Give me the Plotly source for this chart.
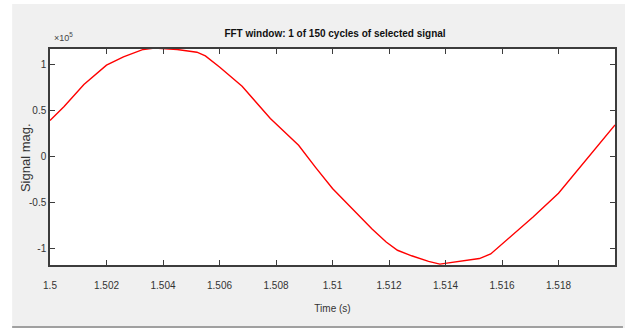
import plotly.graph_objects as go

# One cycle of the selected signal (time in s, magnitude in raw units)
time_s = [1.5000, 1.5005, 1.5012, 1.5020, 1.5026, 1.5033, 1.5037, 1.5045,
          1.5052, 1.5055, 1.5060, 1.5068, 1.5078, 1.5088, 1.5094, 1.5100,
          1.5107, 1.5114, 1.5119, 1.5123, 1.5128, 1.5134, 1.5138, 1.5145,
          1.5152, 1.5156, 1.5163, 1.5171, 1.5180, 1.5187, 1.5193, 1.5200]
signal_mag = [39000, 54000, 78000, 99000, 108000, 116000, 117500, 116000,
              113000, 109000, 97000, 76000, 41000, 12000, -12000, -35000,
              -57000, -79000, -93000, -102000, -108000, -114000, -117000, -114000,
              -111000, -106000, -87000, -66000, -40000, -14000, 8000, 34000]

x_tickvals = [1.5, 1.502, 1.504, 1.506, 1.508, 1.51, 1.512, 1.514, 1.516, 1.518]
x_ticktext = ["1.5", "1.502", "1.504", "1.506", "1.508", "1.51", "1.512", "1.514", "1.516", "1.518"]
y_tickvals = [-100000, -50000, 0, 50000, 100000]
y_ticktext = ["-1", "-0.5", "0", "0.5", "1"]

W, H = 625, 329
L, R, T, B = 50, 8, 49, 64
pw, ph = W - L - R, H - T - B

def px_x(px):
    return (px - L) / pw

def px_y(py):
    return (H - B - py) / ph

sans = "Liberation Sans, Arial, sans-serif"
axis_col = "#3c3c3c"

fig = go.Figure()
fig.add_trace(go.Scatter(x=time_s, y=signal_mag, mode="lines",
                         line=dict(color="#ff0000", width=1.4),
                         showlegend=False))

fig.update_layout(
    width=W, height=H,
    margin=dict(l=L, r=R, t=T, b=B),
    paper_bgcolor="#f0f0f0",
    plot_bgcolor="#ffffff",
    font=dict(family=sans, size=10, color="#262626"),
    title=dict(text="<b>FFT window: 1 of 150 cycles of selected signal</b>",
               x=0.536, xanchor="center", y=1 - 33 / H, yanchor="middle",
               font=dict(family=sans, size=10, color="#111111")),
    xaxis=dict(range=[1.5, 1.52], tickvals=x_tickvals, ticktext=x_ticktext,
               ticks="inside", ticklen=5, tickcolor=axis_col, showgrid=False,
               zeroline=False, showline=True, linecolor=axis_col, linewidth=1.5,
               mirror="ticks", ticklabelstandoff=10,
               tickfont=dict(size=10, color="#333333"),
               title=dict(text="Time (s)", standoff=15,
                          font=dict(size=10, color="#333333"))),
    yaxis=dict(range=[-118000, 116500], tickvals=y_tickvals, ticktext=y_ticktext,
               ticks="inside", ticklen=5, tickcolor=axis_col, showgrid=False,
               zeroline=False, showline=True, linecolor=axis_col, linewidth=1.5,
               mirror="ticks", tickfont=dict(size=10, color="#333333")),
    annotations=[
        dict(text="Signal mag.", textangle=-90, xref="paper", yref="paper",
             x=px_x(25), y=px_y(158), showarrow=False, xanchor="center",
             yanchor="middle",
             font=dict(family=sans, size=13, color="#333333")),
        dict(text="×10<sup>5</sup>", xref="paper", yref="paper",
             x=px_x(52), y=px_y(37), showarrow=False, xanchor="left",
             yanchor="middle", font=dict(size=9, color="#444444")),
    ],
    shapes=[
        dict(type="rect", xref="paper", yref="paper", layer="below",
             x0=px_x(-5), x1=px_x(12), y0=px_y(H + 5), y1=px_y(-5),
             fillcolor="#ffffff", line=dict(width=0)),
        dict(type="rect", xref="paper", yref="paper", layer="below",
             x0=px_x(-5), x1=px_x(W + 5), y0=px_y(4), y1=px_y(-5),
             fillcolor="#ffffff", line=dict(width=0)),
        dict(type="rect", xref="paper", yref="paper", layer="below",
             x0=px_x(-5), x1=px_x(W + 5), y0=px_y(H + 5), y1=px_y(328),
             fillcolor="#ffffff", line=dict(width=0)),
        dict(type="line", xref="paper", yref="paper", layer="below",
             x0=px_x(12), x1=px_x(W), y0=px_y(327), y1=px_y(327),
             line=dict(color="#a0a0a0", width=2)),
    ],
)

fig.write_html("out.html")
